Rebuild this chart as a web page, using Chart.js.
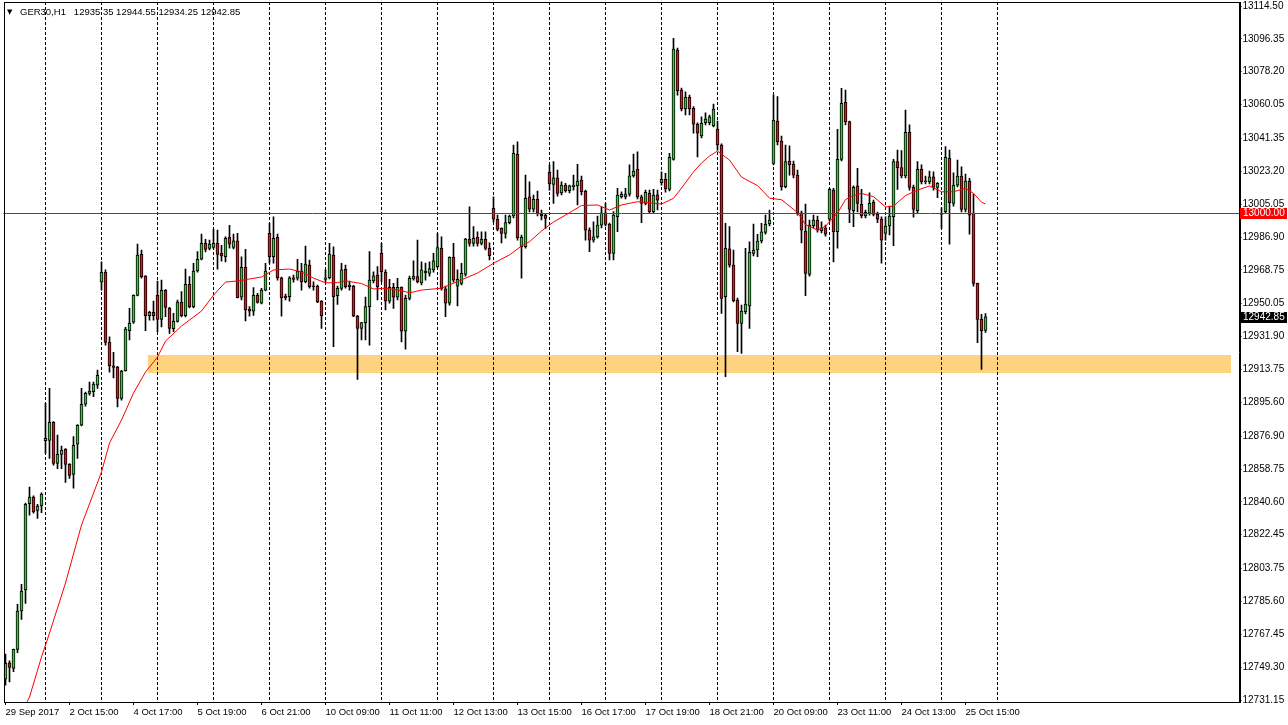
<!DOCTYPE html>
<html>
<head>
<meta charset="utf-8">
<title>GER30,H1</title>
<script src="https://cdn.jsdelivr.net/npm/chart.js@4.4.1/dist/chart.umd.min.js"></script>
<style>
  html, body { margin: 0; padding: 0; background: #fff; }
  canvas { display: block; }
</style>
</head>
<body>
<canvas id="chart" width="1288" height="725"></canvas>
<script>
// --- Chart data ---
const symbol = 'GER30,H1';

const opens = [
  12742.6, 12751.7, 12748.6, 12759.1, 12780.3, 12791.9, 12839.6, 12843.3, 12835.9, 12838.3,
  12874.4, 12874.6, 12884.5, 12861.9, 12866.8, 12869.6, 12861.3, 12855.8, 12872.4, 12882.9,
  12894.5, 12900.5, 12901.4, 12905.1, 12961.9, 12967.4, 12928.7, 12915.8, 12915.1, 12897.8,
  12913.0, 12935.1, 12939.8, 12954.7, 12977.3, 12965.3, 12943.4, 12945.3, 12954.7, 12941.4,
  12957.4, 12947.5, 12936.2, 12940.3, 12951.0, 12943.4, 12960.8, 12948.4, 12968.1, 12974.6,
  12983.4, 12980.6, 12981.2, 12983.4, 12977.9, 12976.0, 12986.7, 12981.2, 12984.8, 12953.6,
  12970.1, 12947.1, 12946.0, 12954.7, 12950.3, 12957.6, 12988.9, 12976.0, 12986.7, 12964.4,
  12954.3, 12953.9, 12964.4, 12964.1, 12968.1, 12962.2, 12971.4, 12959.8, 12959.8, 12951.5,
  12963.5, 12964.4, 12976.9, 12954.5, 12958.5, 12969.0, 12960.4, 12959.8, 12943.2, 12936.4,
  12939.6, 12948.4, 12962.6, 12965.9, 12977.9, 12967.5, 12951.5, 12959.1, 12953.6, 12959.1,
  12934.9, 12953.0, 12963.8, 12965.0, 12961.6, 12967.2, 12966.8, 12968.7, 12970.5, 12980.6,
  12958.3, 12950.3, 12975.7, 12959.8, 12961.3, 12966.3, 12985.8, 12983.4, 12986.7, 12983.4,
  12985.6, 12980.6, 13002.7, 12996.7, 12991.7, 12988.9, 12994.8, 12998.5, 13032.7, 12981.5,
  12981.5, 13009.1, 13002.3, 13007.7, 12999.6, 12999.0, 13022.6, 13016.0, 13019.6, 13011.3,
  13015.6, 13012.5, 13014.7, 13015.1, 13018.4, 13012.3, 12990.7, 12985.2, 12987.0, 12993.5,
  13000.3, 12993.9, 12977.9, 12998.1, 13009.1, 13009.1, 13010.6, 13020.7, 13024.4, 13009.1,
  13005.5, 13011.0, 13000.9, 13010.2, 13016.9, 13018.8, 13013.2, 13029.8, 13090.2, 13068.1,
  13057.6, 13064.1, 13058.0, 13049.2, 13042.7, 13050.0, 13050.0, 13048.4, 13046.5, 13037.7,
  12953.9, 12980.3, 12971.4, 12952.1, 12939.2, 12945.6, 12948.9, 12977.9, 12979.7, 12984.7,
  12989.5, 12994.1, 13027.6, 13051.0, 13039.9, 13014.7, 13028.9, 13027.0, 13021.1, 13000.3,
  12990.2, 12966.3, 12993.1, 12996.3, 12990.4, 12992.0, 12996.7, 13012.8, 12989.8, 13029.8,
  13061.3, 13050.6, 13001.4, 13015.1, 13004.9, 12998.6, 13000.0, 13006.0, 12999.4, 12996.8,
  12988.9, 12993.0, 12998.1, 13028.5, 13025.2, 13020.6, 13044.7, 13014.3, 13001.4, 13024.3,
  13017.4, 13017.4, 13020.2, 13014.3, 12999.4, 13000.9, 13030.4, 13005.5, 13015.6, 13020.6,
  13002.2, 13017.8, 13000.0, 12961.3, 12941.4, 12935.35
];
const highs = [
  12756.5, 12752.8, 12759.3, 12784.0, 12795.0, 12839.9, 12848.8, 12844.0, 12839.2, 12845.6,
  12895.0, 12903.3, 12885.0, 12877.5, 12871.4, 12870.0, 12861.8, 12876.6, 12883.3, 12903.3,
  12901.3, 12906.8, 12906.8, 12913.4, 12973.2, 12968.7, 12931.8, 12923.2, 12915.5, 12913.2,
  12937.0, 12947.5, 12955.0, 12983.0, 12979.7, 12965.6, 12945.8, 12951.5, 12962.6, 12963.1,
  12957.8, 12948.0, 12944.7, 12952.1, 12956.7, 12969.2, 12965.0, 12972.4, 12978.8, 12988.5,
  12985.6, 12985.2, 12991.1, 12990.7, 12982.3, 12987.0, 12993.3, 12988.5, 12988.9, 12976.0,
  12980.1, 12948.4, 12958.9, 12955.8, 12958.5, 12972.4, 12994.5, 12998.1, 12988.5, 12964.8,
  12955.4, 12965.0, 12965.9, 12974.6, 12972.4, 12981.9, 12974.2, 12962.2, 12960.4, 12951.8,
  12968.7, 12983.4, 12981.5, 12959.8, 12972.4, 12971.4, 12962.6, 12960.2, 12943.6, 12939.8,
  12953.7, 12978.8, 12967.7, 12970.5, 12983.4, 12968.7, 12963.5, 12961.3, 12964.1, 12959.4,
  12954.8, 12965.3, 12973.8, 12985.2, 12973.2, 12972.5, 12973.2, 12977.9, 12988.9, 12987.0,
  12959.8, 12976.0, 12983.4, 12968.7, 12972.4, 12986.2, 13003.6, 12992.6, 12989.8, 12989.8,
  12989.8, 12983.7, 13009.1, 12999.0, 12992.0, 12999.0, 12999.0, 13037.7, 13039.5, 12988.0,
  13021.1, 13017.4, 13010.1, 13012.3, 13001.8, 13000.0, 13026.7, 13028.5, 13023.9, 13017.4,
  13016.5, 13015.6, 13021.1, 13027.0, 13020.6, 13012.8, 12991.9, 12995.3, 12998.5, 13003.6,
  13005.5, 12994.6, 13000.9, 13013.8, 13011.9, 13013.8, 13026.7, 13032.7, 13034.0, 13010.1,
  13012.8, 13012.8, 13013.2, 13012.8, 13022.9, 13022.1, 13033.1, 13096.6, 13091.3, 13069.2,
  13067.1, 13065.3, 13058.9, 13049.9, 13053.3, 13055.5, 13054.3, 13060.3, 13051.0, 13038.3,
  12994.5, 12992.6, 12979.7, 12953.2, 12949.3, 12980.6, 12984.3, 12994.1, 12988.4, 12994.5,
  12999.0, 13001.8, 13065.3, 13064.4, 13042.7, 13037.7, 13037.2, 13028.9, 13023.9, 13001.2,
  13005.1, 12996.3, 12999.0, 12998.5, 12995.3, 12993.5, 13013.8, 13013.8, 13046.4, 13069.0,
  13068.1, 13051.0, 13015.1, 13024.8, 13013.2, 13001.8, 13011.3, 13007.3, 13000.7, 12998.1,
  12998.1, 13004.0, 13029.8, 13034.9, 13034.6, 13057.0, 13048.8, 13015.6, 13028.5, 13026.7,
  13020.6, 13023.3, 13022.9, 13016.9, 13003.0, 13036.8, 13034.9, 13022.4, 13029.4, 13025.7,
  13021.7, 13019.3, 13010.6, 12961.5, 12944.2, 12944.55
];
const lows = [
  12739.4, 12741.2, 12746.8, 12757.3, 12775.7, 12784.5, 12833.2, 12834.3, 12831.5, 12834.6,
  12867.4, 12864.6, 12860.9, 12858.9, 12858.9, 12851.4, 12853.6, 12848.1, 12864.6, 12882.5,
  12893.5, 12899.6, 12898.7, 12903.3, 12957.6, 12927.2, 12912.3, 12909.0, 12893.1, 12896.8,
  12912.8, 12930.0, 12939.2, 12954.3, 12964.2, 12935.1, 12941.0, 12941.0, 12934.6, 12937.3,
  12942.9, 12933.7, 12934.6, 12939.9, 12942.7, 12942.7, 12947.7, 12947.7, 12967.5, 12974.2,
  12978.6, 12979.7, 12980.3, 12969.2, 12973.6, 12973.2, 12980.8, 12980.3, 12953.2, 12952.1,
  12940.6, 12943.2, 12943.6, 12950.3, 12949.9, 12957.1, 12972.4, 12972.4, 12963.1, 12943.2,
  12952.1, 12951.5, 12962.0, 12963.1, 12957.6, 12961.5, 12958.7, 12957.6, 12950.6, 12936.4,
  12962.0, 12963.7, 12926.3, 12949.7, 12957.6, 12958.7, 12957.6, 12942.9, 12908.3, 12930.0,
  12930.0, 12927.2, 12961.5, 12952.1, 12962.2, 12946.6, 12950.4, 12947.5, 12952.1, 12929.0,
  12924.9, 12952.1, 12963.1, 12961.5, 12960.4, 12963.1, 12965.3, 12967.5, 12969.8, 12957.6,
  12942.9, 12949.3, 12962.0, 12948.8, 12960.4, 12965.3, 12981.9, 12981.9, 12981.9, 12982.5,
  12979.7, 12974.2, 12995.2, 12990.2, 12983.7, 12986.3, 12994.1, 12997.4, 12985.2, 12964.1,
  12980.8, 13000.7, 13000.7, 12998.5, 12996.3, 12991.7, 13012.8, 13005.5, 13009.5, 13010.1,
  13011.7, 13011.2, 13012.8, 13004.6, 13010.1, 12985.2, 12978.8, 12984.1, 12986.3, 12991.9,
  12993.0, 12974.2, 12974.2, 12989.8, 13008.4, 13007.9, 13009.5, 13020.0, 13007.9, 12994.8,
  13004.6, 13000.1, 13000.1, 13001.8, 13015.6, 13011.7, 13012.3, 13029.4, 13065.3, 13056.5,
  13054.3, 13054.3, 13044.3, 13031.2, 13041.6, 13048.8, 13048.8, 13047.7, 13034.9, 12944.7,
  12909.7, 12970.3, 12951.0, 12923.5, 12922.6, 12944.4, 12936.4, 12976.4, 12976.0, 12983.6,
  12988.5, 12993.0, 13026.7, 13037.7, 13012.8, 13014.0, 13021.1, 13019.5, 12999.0, 12983.7,
  12954.5, 12965.3, 12991.9, 12989.6, 12989.1, 12987.4, 12995.7, 12973.2, 12980.8, 13028.9,
  13048.8, 12994.8, 12992.6, 13000.7, 12997.4, 12997.4, 12999.0, 12998.5, 12994.8, 12972.4,
  12985.2, 12988.0, 12982.1, 13013.2, 13019.5, 13019.5, 13012.8, 12997.8, 13000.0, 13016.2,
  13016.2, 13016.2, 13012.8, 13008.6, 12991.7, 13000.1, 12983.0, 13004.0, 13014.5, 13000.7,
  13000.7, 12988.5, 12959.8, 12928.5, 12913.8, 12934.25
];
const closes = [
  12751.4, 12749.2, 12759.1, 12780.3, 12791.3, 12839.2, 12843.3, 12835.1, 12838.3, 12844.9,
  12875.7, 12884.5, 12861.9, 12866.8, 12869.2, 12861.3, 12855.2, 12871.8, 12882.9, 12894.5,
  12900.5, 12901.8, 12905.7, 12910.5, 12967.4, 12928.7, 12915.8, 12914.9, 12897.8, 12912.9,
  12936.1, 12939.2, 12954.7, 12976.9, 12965.0, 12943.4, 12945.3, 12943.4, 12941.4, 12957.4,
  12948.0, 12936.4, 12940.3, 12951.0, 12943.4, 12960.8, 12948.4, 12968.1, 12974.6, 12983.4,
  12980.1, 12983.0, 12983.4, 12977.3, 12976.4, 12986.2, 12983.0, 12984.8, 12953.4, 12970.1,
  12946.6, 12946.0, 12954.7, 12950.8, 12957.6, 12968.1, 12976.0, 12986.2, 12964.4, 12953.4,
  12953.4, 12964.4, 12963.5, 12968.1, 12962.2, 12972.0, 12959.4, 12959.4, 12951.1, 12943.4,
  12964.4, 12977.5, 12953.9, 12958.5, 12968.7, 12959.4, 12959.4, 12943.2, 12936.4, 12939.6,
  12948.4, 12963.1, 12965.5, 12959.4, 12967.7, 12951.5, 12959.1, 12953.6, 12959.1, 12934.9,
  12953.0, 12964.1, 12965.3, 12962.2, 12968.7, 12967.9, 12969.4, 12973.8, 12981.0, 12958.3,
  12950.3, 12975.7, 12963.1, 12963.5, 12966.8, 12985.8, 12983.4, 12986.3, 12983.4, 12985.8,
  12980.6, 12976.6, 12996.7, 12991.1, 12988.9, 12994.8, 12998.5, 13033.1, 12986.5, 12986.7,
  13008.3, 13002.3, 13007.7, 13000.0, 12998.5, 12997.2, 13016.2, 13019.6, 13011.0, 13015.6,
  13012.5, 13015.1, 13015.6, 13017.8, 13011.9, 12990.7, 12985.2, 12987.0, 12993.5, 13000.3,
  12993.9, 12977.9, 12999.0, 13010.1, 13010.5, 13010.6, 13020.7, 13023.3, 13009.1, 13005.5,
  13011.6, 13000.9, 13010.1, 13007.3, 13018.8, 13013.4, 13030.9, 13090.7, 13067.7, 13057.6,
  13064.1, 13057.6, 13049.2, 13044.2, 13049.7, 13052.1, 13053.3, 13057.6, 13037.7, 12953.0,
  12980.6, 12971.4, 12951.7, 12939.2, 12946.0, 12949.9, 12978.4, 12979.7, 12984.7, 12989.8,
  12993.9, 12996.3, 13051.5, 13039.5, 13014.7, 13028.5, 13026.7, 13021.1, 13000.3, 12990.7,
  12966.8, 12993.5, 12996.3, 12990.7, 12992.0, 12988.4, 13013.2, 12989.8, 13029.8, 13060.7,
  13050.6, 13002.2, 13014.3, 13005.5, 12998.5, 13000.5, 13005.5, 12999.4, 12996.7, 12985.2,
  12993.0, 12998.5, 13028.5, 13025.2, 13020.6, 13044.7, 13014.3, 13002.2, 13024.3, 13017.4,
  13017.8, 13020.2, 13014.3, 13016.5, 13000.0, 13030.9, 13005.8, 13015.6, 13020.6, 13002.2,
  13017.8, 12999.0, 12961.3, 12941.4, 12935.1, 12942.85
];

// red moving average, read at these bar positions
const maBars = [
  5, 6, 9, 11, 15, 19, 24, 26, 29, 32, 35, 38, 40, 44, 47, 49, 52, 55, 58, 61,
  64, 67, 71, 74, 77, 80, 83, 85, 89, 92, 95, 99, 101, 104, 109, 113, 118, 122, 126, 129,
  131, 134, 137, 140, 144, 148, 151, 154, 158, 161, 164, 167, 169, 172, 174, 176, 178, 181, 184, 188,
  191, 194, 198, 200, 203, 205, 208, 210, 212, 214, 217, 220, 222, 225, 228, 231, 234, 237, 240, 242,
  244, 245
];
const maValues = [
  12728.4, 12732.8, 12754.9, 12768.1, 12795.8, 12827.8, 12857.1, 12873.1, 12885.8, 12900.7,
  12912.3, 12920.6, 12929.4, 12937.7, 12942.7, 12946.0, 12954.8, 12962.0, 12962.6, 12963.7,
  12964.8, 12968.7, 12969.2, 12967.6, 12964.2, 12961.6, 12961.7, 12962.7, 12961.2, 12958.2,
  12958.6, 12957.3, 12956.0, 12957.6, 12958.6, 12962.3, 12967.0, 12972.4, 12977.0, 12981.9,
  12984.3, 12990.2, 12995.2, 12999.0, 13004.3, 13004.6, 13001.8, 13004.6, 13006.4, 13005.8,
  13005.1, 13008.3, 13013.9, 13022.9, 13027.8, 13031.6, 13034.4, 13029.4, 13020.0, 13015.3,
  13008.4, 13007.5, 13000.4, 12993.8, 12990.7, 12992.9, 13000.1, 13007.6, 13009.8, 13011.0,
  13009.2, 13003.5, 13004.0, 13009.8, 13012.8, 13015.1, 13011.9, 13011.9, 13013.8, 13011.0,
  13006.2, 13005.1
];

// time axis: one label every 16 bars, dashed grid every 14 bars
const timeLabels = [
  '29 Sep 2017', '2 Oct 15:00', '4 Oct 17:00', '5 Oct 19:00', '6 Oct 21:00', '10 Oct 09:00',
  '11 Oct 11:00', '12 Oct 13:00', '13 Oct 15:00', '16 Oct 17:00', '17 Oct 19:00', '18 Oct 21:00',
  '20 Oct 09:00', '23 Oct 11:00', '24 Oct 13:00', '25 Oct 15:00'
];
const labelEvery = 16;
const gridFirst = 10;
const gridEvery = 14;
const gridCount = 18;
const slotCount = 309;  // bars that fit in the window, incl. empty space on the right

// price axis
const yTicks = [
  13114.50, 13096.35, 13078.20, 13060.05, 13041.35, 13023.20, 13005.05, 12986.90, 12968.75,
  12950.05, 12931.90, 12913.75, 12895.60, 12876.90, 12858.75, 12840.60, 12822.45, 12803.75,
  12785.60, 12767.45, 12749.30, 12731.15
];
const yMin = 12730.05;
const yMax = 13116.71;

// horizontal level and the support zone
const levelPrice = 13000.00;
const zonePrices = [12911.9, 12921.7];
const zoneBars = [35.7, 306.4];

// --- Build what the library needs ---
const slotLabels = [];
for (let i = 0; i < slotCount; i++) {
  slotLabels.push(i % labelEvery === 0 && timeLabels[i / labelEvery] ? timeLabels[i / labelEvery] : '');
}
const isGridSlot = i => i >= gridFirst && (i - gridFirst) % gridEvery === 0 &&
  (i - gridFirst) / gridEvery < gridCount;

const maData = slotLabels.map(() => null);
maBars.forEach((b, i) => { maData[b] = maValues[i]; });

const upColor = '#32cd32';
const downColor = '#e8141b';
const fontName = '"Liberation Sans", Arial, sans-serif';
const last = closes.length - 1;

// --- Extra drawing: zone, level line, frame, header, price tags ---
const mtDecor = {
  id: 'mtDecor',
  beforeDraw(chart) {
    const { ctx, scales: { x, y } } = chart;
    ctx.save();
    ctx.fillStyle = '#ffffff';
    ctx.fillRect(0, 0, chart.width, chart.height);
    const x1 = x.getPixelForValue(zoneBars[0]);
    const x2 = x.getPixelForValue(zoneBars[1]);
    const y1 = y.getPixelForValue(zonePrices[1]);
    const y2 = y.getPixelForValue(zonePrices[0]);
    ctx.fillStyle = '#ffd280';
    ctx.fillRect(Math.round(x1), Math.round(y1), Math.round(x2 - x1), Math.round(y2 - y1));
    ctx.restore();
  },
  afterDatasetsDraw(chart) {
    const { ctx, chartArea: a, scales: { y } } = chart;
    const py = Math.round(y.getPixelForValue(levelPrice)) + 0.5;
    ctx.save();
    ctx.strokeStyle = '#ff0000';
    ctx.lineWidth = 1;
    ctx.beginPath();
    ctx.moveTo(a.left, py);
    ctx.lineTo(a.right, py);
    ctx.stroke();
    ctx.restore();
  },
  afterDraw(chart) {
    const { ctx, chartArea: a, scales: { y } } = chart;
    ctx.save();
    // frame round the plot
    ctx.strokeStyle = '#000';
    ctx.lineWidth = 1;
    ctx.strokeRect(Math.round(a.left) + 0.5, Math.round(a.top) + 0.5,
      Math.round(a.right) - Math.round(a.left), Math.round(a.bottom) - Math.round(a.top));

    // header: symbol and last bar OHLC
    ctx.fillStyle = '#000';
    ctx.textBaseline = 'middle';
    ctx.font = '7px "DejaVu Sans", sans-serif';
    ctx.fillText('\u25BC', 7, 12);
    ctx.font = '9.5px ' + fontName;
    const head = [symbol, ' ', opens[last].toFixed(2), highs[last].toFixed(2),
      lows[last].toFixed(2), closes[last].toFixed(2)].join(' ');
    ctx.fillText(head, 20, 12.5);

    // price tags on the axis
    const tag = (value, bg) => {
      const py = Math.round(y.getPixelForValue(value));
      ctx.fillStyle = bg;
      ctx.fillRect(Math.round(a.right), py - 5, chart.width - Math.round(a.right) - 1, 11);
      ctx.fillStyle = '#fff';
      ctx.font = '10px ' + fontName;
      ctx.fillText(value.toFixed(2), Math.round(a.right) + 3, py + 0.5);
    };
    tag(levelPrice, '#ff0000');
    tag(closes[last], '#000000');
    ctx.restore();
  }
};

new Chart(document.getElementById('chart'), {
  type: 'bar',
  data: {
    labels: slotLabels,
    datasets: [
      {
        type: 'line',
        label: 'MA',
        data: maData,
        borderColor: '#ff0000',
        borderWidth: 1,
        pointRadius: 0,
        spanGaps: true,
        tension: 0,
        order: 1
      },
      {
        label: 'body',
        data: opens.map((o, i) => [o, closes[i]]),
        backgroundColor: opens.map((o, i) => closes[i] >= o ? upColor : downColor),
        borderColor: '#000',
        borderWidth: 1,
        borderSkipped: false,
        barThickness: 3,
        minBarLength: 1,
        grouped: false,
        order: 2
      },
      {
        label: 'wick',
        data: lows.map((l, i) => [l, highs[i]]),
        backgroundColor: '#000',
        borderWidth: 0,
        barThickness: 1,
        grouped: false,
        order: 3
      }
    ]
  },
  options: {
    responsive: false,
    animation: false,
    layout: { padding: { left: 3.5, top: 2, right: 0, bottom: 0 } },
    plugins: {
      legend: { display: false },
      tooltip: { enabled: false },
      title: { display: false }
    },
    scales: {
      x: {
        type: 'category',
        offset: true,
        grid: {
          offset: false,
          lineWidth: 1,
          color: ctx => isGridSlot(ctx.index) ? '#000' : 'rgba(0,0,0,0)',
          tickColor: ctx => slotLabels[ctx.index] ? '#000' : 'rgba(0,0,0,0)',
          tickLength: 3
        },
        border: { display: false, dash: [3, 2] },
        ticks: {
          autoSkip: false,
          maxRotation: 0,
          minRotation: 0,
          align: 'start',
          padding: 2,
          color: '#000',
          font: { family: fontName, size: 9.5 },
          callback: (v, i) => slotLabels[i]
        },
        afterFit: s => { s.height = 23; s.paddingLeft = 0; s.paddingRight = 0; }
      },
      y: {
        position: 'right',
        min: yMin,
        max: yMax,
        afterBuildTicks: s => { s.ticks = yTicks.map(v => ({ value: v })); },
        afterFit: s => { s.width = 48.5; s.paddingTop = 0; s.paddingBottom = 0; },
        grid: { drawOnChartArea: false, drawTicks: true, tickLength: 2, color: '#000' },
        border: { display: true, color: '#000' },
        ticks: {
          autoSkip: false,
          padding: 1,
          color: '#000',
          font: { family: fontName, size: 10 },
          callback: v => Number(v).toFixed(2)
        }
      }
    }
  },
  plugins: [mtDecor]
});
</script>
</body>
</html>
